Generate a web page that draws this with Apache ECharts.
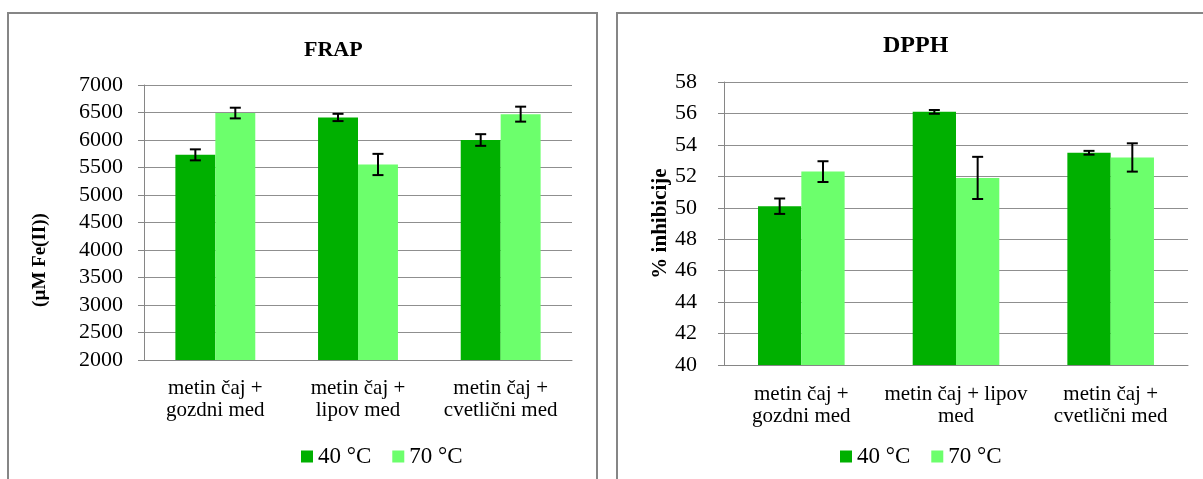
<!DOCTYPE html>
<html>
<head>
<meta charset="utf-8">
<title>FRAP in DPPH</title>
<script src="https://cdn.jsdelivr.net/npm/echarts@6/dist/echarts.min.js"></script>
<style>
  html, body { margin: 0; padding: 0; background: #ffffff; }
  #chart { width: 1203px; height: 479px; }
</style>
</head>
<body>
<div id="chart"></div>
<script>
// Kombinacije metinega čaja in medu
const categories = ['metin čaj + gozdni med', 'metin čaj + lipov med', 'metin čaj + cvetlični med'];
// Oznake kategorij (prelomi vrstic za vsak graf posebej)
const frapLabels = ['metin čaj +\ngozdni med', 'metin čaj +\nlipov med', 'metin čaj +\ncvetlični med'];
const dpphLabels = ['metin čaj +\ngozdni med', 'metin čaj + lipov\nmed', 'metin čaj +\ncvetlični med'];
const seriesNames = ['40 °C', '70 °C'];

// FRAP (µM Fe(II)) – povprečja in standardni odkloni
const frap40 = [5730, 6410, 6000];
const frap40Err = [100, 66, 106];
const frap70 = [6490, 5555, 6470];
const frap70Err = [97, 193, 136];

// DPPH (% inhibicije) – povprečja in standardni odkloni
const dpph40 = [50.1, 56.1, 53.5];
const dpph40Err = [0.49, 0.12, 0.12];
const dpph70 = [52.3, 51.9, 53.2];
const dpph70Err = [0.66, 1.34, 0.9];

// Obseg osi y
const frapAxis = { min: 2000, max: 7000, interval: 500 };
const dpphAxis = { min: 40, max: 58, interval: 2 };

const DARK = '#00b000';
const LIGHT = '#6cff6c';
const SERIF = '"Liberation Serif", "Times New Roman", serif';
const GAP = 0.44;

function errorData(vals40, err40, vals70, err70) {
  const out = [];
  vals40.forEach((v, i) => out.push([i, v, err40[i], 0]));
  vals70.forEach((v, i) => out.push([i, v, err70[i], 1]));
  return out;
}

// Stolpec napake: navpična črta z vodoravnima zaključkoma
function renderError(params, api) {
  const cat = api.value(0), val = api.value(1), err = api.value(2), s = api.value(3);
  const band = api.size([1, 0])[0];
  const barW = band * (1 - GAP) / 2;
  const off = (s === 0 ? -0.5 : 0.5) * barW;
  const hi = api.coord([cat, val + err]);
  const lo = api.coord([cat, val - err]);
  const x = hi[0] + off;
  const cap = 5.5;
  const style = { stroke: '#000', lineWidth: 2 };
  return {
    type: 'group',
    children: [
      { type: 'line', shape: { x1: x, y1: hi[1], x2: x, y2: lo[1] }, style },
      { type: 'line', shape: { x1: x - cap, y1: hi[1], x2: x + cap, y2: hi[1] }, style },
      { type: 'line', shape: { x1: x - cap, y1: lo[1], x2: x + cap, y2: lo[1] }, style }
    ]
  };
}

function xAxisFor(gridIndex, labels, margin) {
  return {
    type: 'category',
    gridIndex,
    data: categories,
    axisLine: { lineStyle: { color: '#868686', width: 1 } },
    axisTick: { length: 5, lineStyle: { color: '#868686' } },
    axisLabel: {
      color: '#000', fontFamily: SERIF, fontSize: 21, lineHeight: 22, margin,
      interval: 0,
      formatter: (v, i) => labels[i]
    }
  };
}

function yAxisFor(gridIndex, range, name, nameGap, labelMargin, namePad, nameSize, labelSize) {
  return {
    type: 'value',
    gridIndex,
    min: range.min, max: range.max, interval: range.interval,
    name,
    nameLocation: 'middle',
    nameRotate: 90,
    nameGap,
    nameTextStyle: { color: '#000', fontFamily: SERIF, fontWeight: 'bold', fontSize: nameSize, padding: namePad },
    axisLine: { show: true, lineStyle: { color: '#868686', width: 1 } },
    axisTick: { show: true, length: 6, lineStyle: { color: '#868686' } },
    axisLabel: { color: '#000', fontFamily: SERIF, fontSize: labelSize, margin: labelMargin, formatter: (v) => String(v) },
    splitLine: { show: true, lineStyle: { color: '#8f8f8f', width: 1 } }
  };
}

function barSeries(name, data, color, xi, yi) {
  return {
    type: 'bar', name, data, xAxisIndex: xi, yAxisIndex: yi,
    barGap: '0%', barCategoryGap: (GAP * 100) + '%',
    itemStyle: { color },
    emphasis: { disabled: true },
    z: 2
  };
}

function legendAt(left) {
  return {
    data: seriesNames, left, top: 445, padding: 0, itemGap: 21, itemWidth: 12, itemHeight: 12,
    icon: 'rect', selectedMode: false,
    textStyle: { fontFamily: SERIF, fontSize: 23, color: '#000', padding: [0, 0, 0, 0] }
  };
}

const chart = echarts.init(document.getElementById('chart'), null, { renderer: 'canvas' });

chart.setOption({
  backgroundColor: '#ffffff',
  animation: false,
  graphic: [
    { type: 'rect', shape: { x: 8, y: 13, width: 589, height: 500 }, style: { fill: 'none', stroke: '#868686', lineWidth: 2 }, z: -1 },
    { type: 'rect', shape: { x: 617, y: 13, width: 620, height: 500 }, style: { fill: 'none', stroke: '#868686', lineWidth: 2 }, z: -1 }
  ],
  title: [
    { text: 'FRAP', left: 299, top: 34, textStyle: { fontFamily: SERIF, fontWeight: 'bold', fontSize: 22, color: '#000' } },
    { text: 'DPPH', left: 878, top: 29, textStyle: { fontFamily: SERIF, fontWeight: 'bold', fontSize: 24, color: '#000' } }
  ],
  legend: [legendAt(301), legendAt(840)],
  grid: [
    { left: 144, right: 1203 - 572, top: 85, bottom: 479 - 360 },
    { left: 724, right: 1203 - 1188, top: 82, bottom: 479 - 365 }
  ],
  xAxis: [xAxisFor(0, frapLabels, 17), xAxisFor(1, dpphLabels, 18)],
  yAxis: [
    yAxisFor(0, frapAxis, '(µM Fe(II))', 94, 21, [0, 75, 0, 0], 19, 22),
    yAxisFor(1, dpphAxis, '% inhibicije', 52, 27, 0, 21, 22)
  ],
  series: [
    barSeries(seriesNames[0], frap40, DARK, 0, 0),
    barSeries(seriesNames[1], frap70, LIGHT, 0, 0),
    barSeries(seriesNames[0], dpph40, DARK, 1, 1),
    barSeries(seriesNames[1], dpph70, LIGHT, 1, 1),
    {
      type: 'custom', xAxisIndex: 0, yAxisIndex: 0,
      data: errorData(frap40, frap40Err, frap70, frap70Err),
      renderItem: renderError, encode: { x: 0, y: 1 }, z: 5, silent: true
    },
    {
      type: 'custom', xAxisIndex: 1, yAxisIndex: 1,
      data: errorData(dpph40, dpph40Err, dpph70, dpph70Err),
      renderItem: renderError, encode: { x: 0, y: 1 }, z: 5, silent: true
    }
  ]
});
</script>
</body>
</html>
